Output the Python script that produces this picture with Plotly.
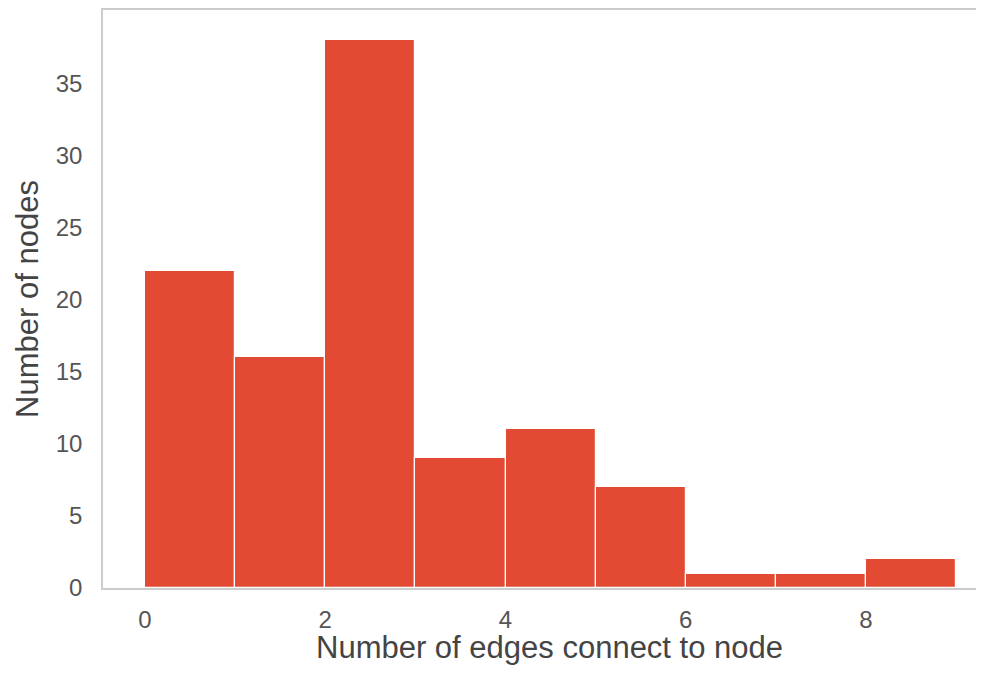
import plotly.graph_objects as go

bin_left = [0, 1, 2, 3, 4, 5, 6, 7, 8]
counts = [22, 16, 38, 9, 11, 7, 1, 1, 2]
x_ticks = [0, 2, 4, 6, 8]
y_ticks = [0, 5, 10, 15, 20, 25, 30, 35]

fig = go.Figure(go.Bar(
    x=[b + 0.5 for b in bin_left],
    y=counts,
    width=1,
    marker=dict(color="#E24A33", line=dict(color="white", width=1.2)),
))

fig.update_layout(
    width=968, height=660,
    margin=dict(l=95, r=0, t=0, b=80),
    plot_bgcolor="white", paper_bgcolor="white",
    font=dict(family="Liberation Sans, Arial, sans-serif", color="#555555", size=24),
    showlegend=False,
    bargap=0,
    annotations=[dict(
        text="Number of edges connect to node", xref="paper", yref="paper",
        x=0.511, y=0, yshift=-79, xanchor="center", yanchor="bottom",
        showarrow=False, font=dict(size=31, color="#444444"),
    )],
)
fig.update_xaxes(
    range=[-0.466, 9.22], tickvals=x_ticks, showgrid=False, zeroline=False,
    showline=True, linecolor="#cccccc", linewidth=1.5, mirror=True, ticks="",
    ticklabelstandoff=9, tickfont=dict(size=24, color="#555555"),
)
fig.update_yaxes(
    range=[0, 40.08], tickvals=y_ticks, showgrid=False, zeroline=False,
    showline=True, linecolor="#cccccc", linewidth=1.5, ticks="",
    ticklabelstandoff=14, tickfont=dict(size=24, color="#555555"),
    title=dict(text="Number of nodes", font=dict(size=31, color="#444444"), standoff=8),
)

fig.write_html("out.html")
